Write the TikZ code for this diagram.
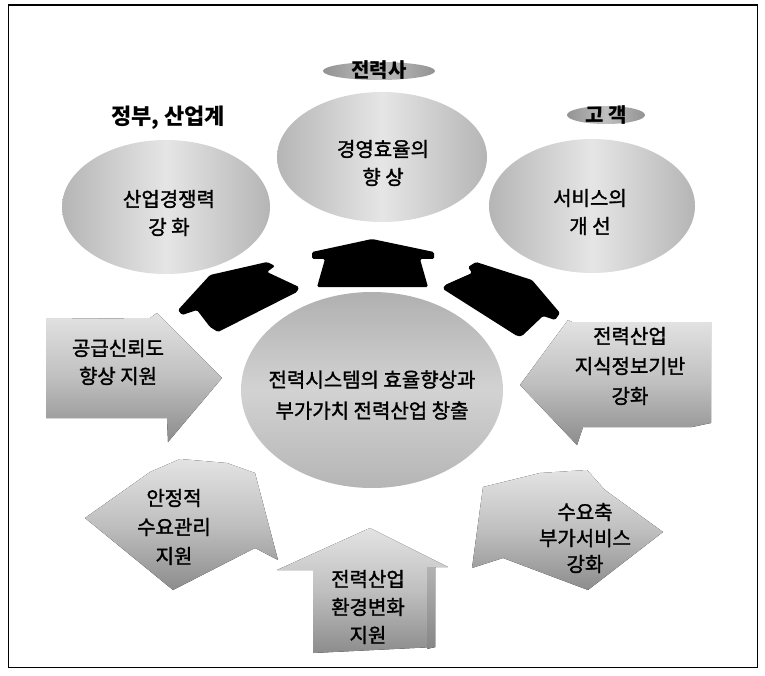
\documentclass[tikz,border=0pt]{standalone}
\usepackage{fontspec}
\setmainfont{Noto Sans CJK KR}
\newfontfamily\krm[FakeBold=1.5]{Noto Sans CJK KR}
\usetikzlibrary{shapes.geometric}
\begin{document}
\begin{tikzpicture}[x=1pt,y=-1pt,
  lbl/.style={font=\krm\fontsize{20}{28}\selectfont, align=center, inner sep=0pt, text=black},
  ttl/.style={font=\bfseries\fontsize{20}{24}\selectfont, inner sep=0pt, text=black},
  topcirc/.style={ellipse, inner sep=0pt, left color=gray!58, right color=gray!58, middle color=gray!20},
  tagell/.style={ellipse, inner sep=0pt, minimum height=18pt, left color=gray!85, right color=gray!85, middle color=gray!50},
  blackarrow/.style={fill=black, rounded corners=1.5pt},
  grayarrow/.style={top color=gray!22, bottom color=gray!90, middle color=gray!50},
  sideface/.style={top color=gray!60, bottom color=gray!95}
]
\useasboundingbox (0,0) rectangle (765,676);
% frame
\draw[line width=1pt] (8,5) rectangle (757,667);
\draw[line width=2pt] (8,5) -- (757,5);

% tag ellipses and titles
\node[tagell, minimum width=112pt] (e1) at (379,71) {};
\node[ttl] (t1) at (379,70) {전력사};
\node[tagell, minimum width=78pt] (e2) at (606,115) {};
\node[ttl] (t2) at (606,115) {고 객};
\node[ttl, font=\bfseries\fontsize{22}{24}\selectfont] (t3) at (168,118) {정부, 산업계};

% top circles
\node[topcirc, minimum width=208pt, minimum height=134pt] (c1) at (166,207) {};
\node[topcirc, minimum width=210pt, minimum height=130pt] (c2) at (382,157) {};
\node[topcirc, minimum width=206pt, minimum height=134pt] (c3) at (592,206) {};
\node[lbl] (l1) at (169,213) {산업경쟁력\\강 화};
\node[lbl] (l2) at (383,163) {경영효율의\\향 상};
\node[lbl] (l3) at (590,212) {서비스의\\개 선};

% black arrows
\fill[blackarrow] (372,239) -- (434,252) -- (434,259) -- (420,259) -- (428,287)
  -- (317,287) -- (325,259) -- (312,259) -- (312,252) -- cycle;
\fill[blackarrow] (210,275) -- (267,262) -- (275,266) -- (267,272) -- (299,287)
  -- (297,292) -- (218,332) -- (210,327) -- (197,310) -- (182,315) -- (178,310) -- cycle;
\fill[blackarrow] (532,280) -- (560,313) -- (555,320) -- (543,316) -- (522,336)
  -- (517,336) -- (443,289) -- (445,285) -- (472,273) -- (468,267) -- (476,262) -- cycle;

% central ellipse
\node[ellipse, inner sep=0pt, minimum width=262pt, minimum height=196pt,
  top color=gray!62, bottom color=gray!58, middle color=gray!35] (c0) at (372,390) {};
\node[lbl, font=\krm\fontsize{20}{31}\selectfont] (l0) at (372,395) {전력시스템의 효율향상과\\부가가치 전력산업 창출};

% gray arrows
\fill[grayarrow] (46,319) -- (150,318) -- (157,313) -- (222,378) -- (168,442)
  -- (167,418) -- (46,418) -- cycle;
\node[lbl] (a1) at (118,362) {공급신뢰도\\향상 지원};

\fill[grayarrow] (572,322) -- (711,322) -- (711,423) -- (692,427) -- (583,427)
  -- (577,445) -- (520,385) -- (568,320) -- cycle;
\node[lbl, font=\krm\fontsize{20}{30}\selectfont] (a2) at (630,366) {전력산업\\지식정보기반\\강화};

\fill[grayarrow] (85,518) -- (150,472) -- (180,459) -- (227,463) -- (255,473)
  -- (278,560) -- (255,548) -- (173,590) -- cycle;
\node[lbl, font=\krm\fontsize{20}{29}\selectfont] (a3) at (174,527) {안정적\\수요관리\\지원};

\fill[grayarrow] (483,487) -- (540,473) -- (587,470) -- (605,490) -- (663,532)
  -- (588,590) -- (503,558) -- (472,568) -- cycle;
\node[lbl, font=\krm\fontsize{20}{26}\selectfont] (a4) at (585,538) {수요축\\부가서비스\\강화};

\fill[grayarrow] (277,570) -- (370,528) -- (448,567) -- (435,567) -- (435,647)
  -- (313,653) -- (313,570) -- cycle;
\fill[sideface] (427,567) -- (435,567) -- (435,647) -- (427,649) -- cycle;
\node[lbl] (a5) at (368,607) {전력산업\\환경변화\\지원};
\end{tikzpicture}
\end{document}
